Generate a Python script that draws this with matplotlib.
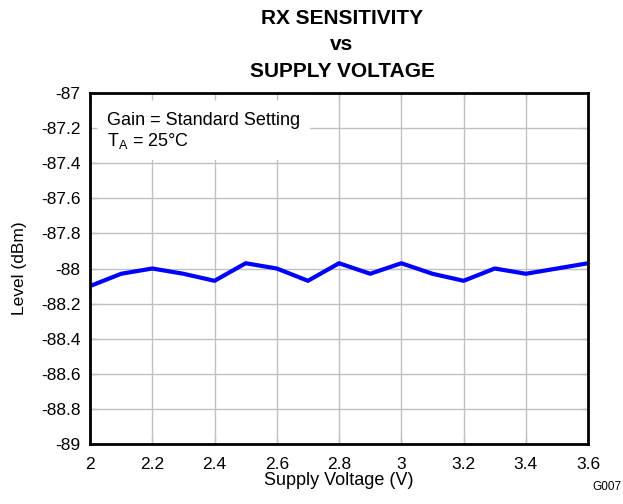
import matplotlib
matplotlib.use("Agg")
import matplotlib.pyplot as plt
from matplotlib.patches import Rectangle

voltage = [2.0, 2.1, 2.2, 2.3, 2.4, 2.5, 2.6, 2.7, 2.8, 2.9, 3.0, 3.1, 3.2, 3.3, 3.4, 3.5, 3.6]
level = [-88.10, -88.03, -88.00, -88.03, -88.07, -87.97, -88.00, -88.07, -87.97, -88.03,
         -87.97, -88.03, -88.07, -88.00, -88.03, -88.00, -87.97]
xticks = [2, 2.2, 2.4, 2.6, 2.8, 3, 3.2, 3.4, 3.6]
yticks = [-89, -88.8, -88.6, -88.4, -88.2, -88, -87.8, -87.6, -87.4, -87.2, -87]

plt.rcParams['font.family'] = ['Liberation Sans', 'DejaVu Sans']

fig = plt.figure(figsize=(6.23, 5.04), dpi=100)
ax = fig.add_axes([0.1445, 0.119, 0.7995, 0.6965])

grid_kw = dict(color='#c0c0c0', lw=1.0, zorder=0.5)
for t in xticks:
    ax.axvline(t, **grid_kw)
for t in yticks:
    ax.axhline(t, **grid_kw)

ax.plot(voltage, level, color='#0000ff', lw=3.0, zorder=3)
ax.set_xlim(2, 3.6)
ax.set_ylim(-89, -87)
ax.set_xticks(xticks)
ax.set_xticklabels([f"{t:g}" for t in xticks])
ax.set_yticks(yticks)
ax.set_yticklabels([f"{t:g}" for t in yticks])
ax.tick_params(direction='in', length=5, width=1, color='#c0c0c0',
               top=True, right=True, labelsize=12.5)
ax.tick_params(axis='x', pad=9)
ax.tick_params(axis='y', pad=7)
for s in ax.spines.values():
    s.set_linewidth(2)
    s.set_color('black')
    s.set_zorder(5)

# white label box covering gridlines
ax.add_patch(Rectangle((0.0, 0.81), 0.442, 0.19, transform=ax.transAxes,
                       facecolor='white', edgecolor='none', zorder=1))
ax.text(0.034, 0.923, "Gain = Standard Setting", transform=ax.transAxes,
        fontsize=13, va='center', ha='left', zorder=4)
ax.text(0.034, 0.862, r"T$_\mathregular{A}$ = 25°C", transform=ax.transAxes,
        fontsize=13, va='center', ha='left', zorder=4)

ax.set_xlabel("Supply Voltage (V)", fontsize=13, labelpad=0)
ax.set_ylabel("Level (dBm)", fontsize=12.5, labelpad=10)

fig.text(0.549, 0.911, "RX SENSITIVITY\nvs\nSUPPLY VOLTAGE", ha='center', va='center',
         fontsize=15, fontweight='bold', linespacing=1.5)
fig.text(0.997, 0.022, "G007", ha='right', va='bottom', fontsize=8.5)

fig.savefig("out.png", dpi=100)
